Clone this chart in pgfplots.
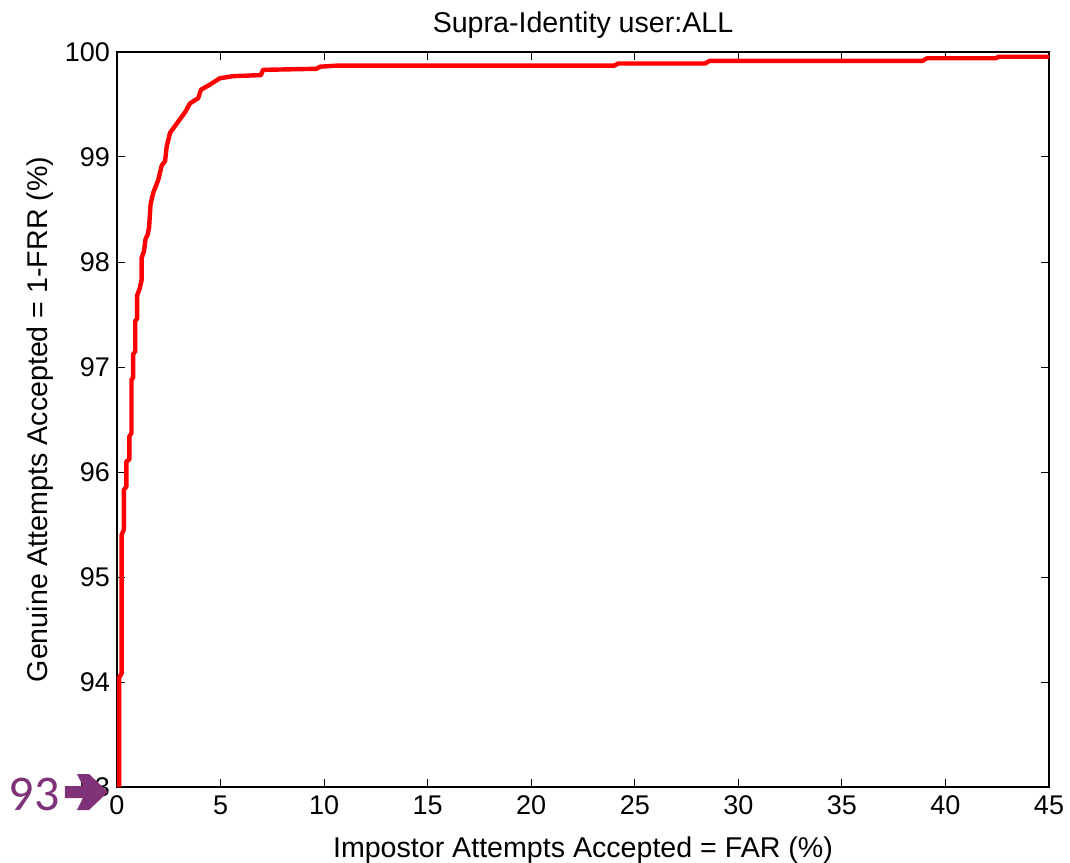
\documentclass[border=0pt]{standalone}
\usepackage{pgfplots}
\pgfplotsset{compat=1.18}
\usepackage{fontspec}
\setmainfont{Liberation Sans}
\newfontfamily\annfont{Carlito}
\definecolor{annpurple}{RGB}{128,50,120}
\begin{document}
\begin{tikzpicture}
\begin{axis}[
  scale only axis,
  width=466pt, height=367.5pt,
  xmin=0, xmax=45, ymin=93, ymax=100,
  xtick={0,5,...,45}, ytick={93,94,...,100},
  tick align=inside,
  major tick length=4pt,
  tick style={black, line width=0.5pt},
  axis line style={black, line width=0.7pt},
  /pgf/number format/assume math mode=true,
  ticklabel style={font=\fontsize{13.5}{15}\selectfont},
  xticklabel style={yshift=-1pt},
  label style={font=\fontsize{14.3}{16}\selectfont},
  title style={font=\fontsize{14.3}{16}\selectfont, yshift=-3pt},
  title={Supra-Identity user:ALL},
  xlabel={Impostor Attempts Accepted = FAR (\%)},
  ylabel={Genuine Attempts Accepted = 1-FRR (\%)},
  xlabel style={yshift=-4pt},
  ylabel style={yshift=-1pt},
  clip=false,
]
\addplot[red, line width=2.2pt, line join=round] coordinates {
(0.10,93.00) (0.10,94.04) (0.22,94.08) (0.22,95.40) (0.33,95.45) (0.33,95.83)
(0.45,95.86) (0.45,96.10) (0.60,96.12) (0.60,96.34) (0.70,96.37) (0.70,96.88)
(0.78,96.90) (0.78,97.12) (0.88,97.15) (0.88,97.44) (0.97,97.46) (0.97,97.68)
(1.10,97.75) (1.19,97.83) (1.19,98.04) (1.30,98.10) (1.38,98.22) (1.48,98.26)
(1.55,98.33) (1.62,98.55) (1.75,98.66) (1.99,98.78) (2.16,98.92) (2.32,98.96)
(2.40,99.10) (2.56,99.23) (3.04,99.36) (3.30,99.43) (3.52,99.51) (3.92,99.56)
(4.05,99.64) (4.49,99.69) (4.97,99.75) (5.61,99.77) (6.95,99.78) (7.05,99.83)
(9.63,99.84) (9.80,99.86) (10.60,99.87) (24.00,99.87) (24.20,99.89) (28.40,99.89)
(28.60,99.915) (38.90,99.915) (39.10,99.94) (42.40,99.94) (42.60,99.955) (45.00,99.955)
};
\end{axis}
\begin{scope}[shift={(current axis.south west)}]
\fill[annpurple] (-26pt,-5.5pt) -- (-26pt,0.5pt) -- (-17pt,0.5pt) -- (-20pt,6.5pt) -- (-14pt,6.5pt)
  -- (-4.5pt,-2.5pt) -- (-14pt,-11.5pt) -- (-20pt,-11.5pt) -- (-17pt,-5.5pt) -- cycle;
\node[anchor=base east, inner sep=0pt, text=annpurple, font=\annfont\fontsize{25}{27}\selectfont] at (-28.5pt,-11.5pt) {93};
\end{scope}
\pgfresetboundingbox
\path ([shift={(-58.5pt,-37.5pt)}]current axis.south west) rectangle ([shift={(10.5pt,26pt)}]current axis.north east);
\end{tikzpicture}
\end{document}
